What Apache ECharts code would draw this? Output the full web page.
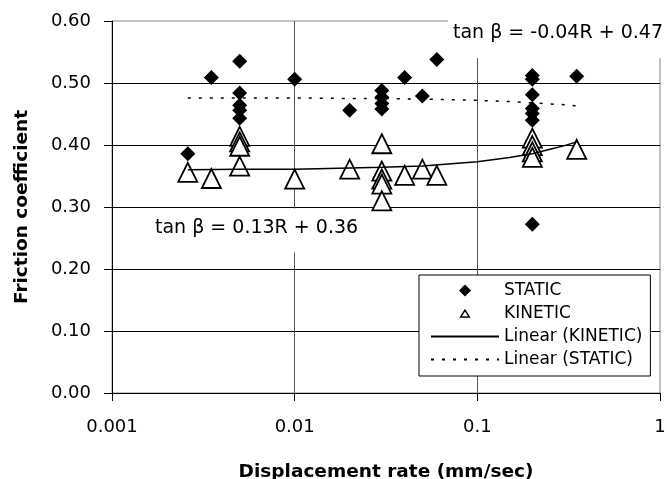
<!DOCTYPE html>
<html>
<head>
<meta charset="utf-8">
<script src="https://cdn.jsdelivr.net/npm/echarts@6/dist/echarts.min.js"></script>
<style>
  html, body { margin: 0; padding: 0; background: #fff; }
  #friction_chart { width: 667px; height: 479px; }
</style>
</head>
<body>
<div id="friction_chart"></div>
<script>
// values
var staticRate = [0.0026, 0.0035, 0.005, 0.005, 0.005, 0.005, 0.005, 0.01, 0.02, 0.03, 0.03, 0.03, 0.03, 0.04, 0.05, 0.06, 0.2, 0.2, 0.2, 0.2, 0.2, 0.2, 0.2, 0.35];
var staticCoef = [0.386, 0.509, 0.535, 0.484, 0.464, 0.456, 0.443, 0.506, 0.456, 0.488, 0.477, 0.467, 0.458, 0.509, 0.479, 0.538, 0.512, 0.506, 0.481, 0.459, 0.451, 0.440, 0.272, 0.511];

var kineticRate = [0.0026, 0.0035, 0.005, 0.005, 0.005, 0.005, 0.01, 0.02, 0.03, 0.03, 0.03, 0.03, 0.03, 0.04, 0.05, 0.06, 0.2, 0.2, 0.2, 0.2, 0.35];
var kineticCoef = [0.356, 0.346, 0.414, 0.405, 0.398, 0.366, 0.345, 0.361, 0.402, 0.358, 0.345, 0.337, 0.310, 0.351, 0.361, 0.351, 0.411, 0.399, 0.389, 0.380, 0.393];

// trend lines as they appear on the figure (linear in R, so curved on the log axis)
var trendRate    = [0.0026, 0.005, 0.01, 0.02, 0.03, 0.05, 0.1, 0.15, 0.2, 0.25, 0.3, 0.35];
var kineticTrend = [0.360, 0.361, 0.361, 0.363, 0.364, 0.366, 0.373, 0.380, 0.386, 0.393, 0.399, 0.405];
var staticTrend  = [0.476, 0.476, 0.476, 0.475, 0.475, 0.474, 0.472, 0.470, 0.468, 0.466, 0.465, 0.463];

var kineticEq = 'tan \u03b2 = 0.13R + 0.36';
var staticEq = 'tan \u03b2 = -0.04R + 0.47';

function pairs(xs, ys) {
    var out = [];
    for (var i = 0; i < xs.length; i++) out.push([xs[i], ys[i]]);
    return out;
}

var font = 'DejaVu Sans';
// line items in the legend show only the line, not a marker
var noMarker = {color: 'transparent', borderColor: 'transparent', borderWidth: 0};

var dom = document.getElementById("friction_chart");
var myChart = echarts.init(dom, null, {renderer: 'canvas'});
var option = {
    animation: false,
    backgroundColor: '#fff',
    grid: {
        left: 112, right: 7, top: 21, bottom: 86,
        outerBoundsMode: 'none',
        containLabel: false,
        show: true, borderColor: '#888', borderWidth: 1, backgroundColor: '#fff'
    },
    legend: {
        orient: 'vertical',
        left: 419, top: 275,
        padding: [7, 8, 8, 11],
        itemWidth: 68, itemHeight: 12, itemGap: 6,
        symbolKeepAspect: true,
        borderColor: '#000', borderWidth: 1, backgroundColor: '#fff',
        textStyle: {fontFamily: font, fontSize: 17, color: '#000'},
        data: [
            {name: 'STATIC', icon: 'path://M6,0L12,6L6,12L0,6Z'},
            {name: 'KINETIC', icon: 'path://M0,0M16,14M3,11L8,3L13,11Z', itemStyle: {borderWidth: 1.5}},
            {name: 'Linear (KINETIC)', itemStyle: noMarker},
            {name: 'Linear (STATIC)', itemStyle: noMarker}
        ]
    },
    xAxis: {
        type: 'log',
        logBase: 10,
        min: 0.001,
        max: 1,
        name: 'Displacement rate (mm/sec)',
        nameLocation: 'middle',
        nameGap: 70,
        nameTextStyle: {fontFamily: font, fontSize: 18.5, fontWeight: 'bold', color: '#000'},
        axisLine: {lineStyle: {color: '#000', width: 1}},
        axisTick: {show: true, inside: false, length: 8, lineStyle: {color: '#000'}},
        minorTick: {show: false},
        axisLabel: {
            margin: 25, color: '#000', fontFamily: font, fontSize: 18,
            formatter: function (v) { return String(+v.toPrecision(3)); }
        },
        splitLine: {show: true, showMaxLine: false, lineStyle: {color: '#555', width: 1}}
    },
    yAxis: {
        type: 'value',
        min: 0,
        max: 0.6,
        interval: 0.1,
        name: 'Friction coefficient',
        nameLocation: 'middle',
        nameGap: 80,
        nameTextStyle: {fontFamily: font, fontSize: 18.5, fontWeight: 'bold', color: '#000'},
        axisLine: {show: true, lineStyle: {color: '#000', width: 1}},
        axisTick: {show: true, inside: false, length: 8, lineStyle: {color: '#000'}},
        axisLabel: {
            margin: 21, color: '#000', fontFamily: font, fontSize: 18,
            formatter: function (v) { return v.toFixed(2); }
        },
        splitLine: {show: true, showMaxLine: false, lineStyle: {color: '#000', width: 1}}
    },
    graphic: [
        {type: 'rect', z: 50, shape: {x: 448, y: 12, width: 219, height: 46}, style: {fill: '#fff'}},
        {type: 'text', z: 51, x: 453, y: 33,
         style: {text: staticEq, fill: '#000', font: '19px "DejaVu Sans"', textVerticalAlign: 'middle'}},
        {type: 'rect', z: 50, shape: {x: 150, y: 208.5, width: 212, height: 44}, style: {fill: '#fff'}},
        {type: 'text', z: 51, x: 155, y: 228,
         style: {text: kineticEq, fill: '#000', font: '19px "DejaVu Sans"', textVerticalAlign: 'middle'}}
    ],
    series: [
        {
            name: 'Linear (KINETIC)',
            type: 'line',
            data: pairs(trendRate, kineticTrend),
            symbol: 'none',
            lineStyle: {color: '#000', width: 1.5},
            itemStyle: {color: '#000'}
        },
        {
            name: 'Linear (STATIC)',
            type: 'line',
            data: pairs(trendRate, staticTrend),
            symbol: 'none',
            lineStyle: {color: '#000', width: 1.5, type: [3, 8]},
            itemStyle: {color: '#000'}
        },
        {
            name: 'STATIC',
            type: 'scatter',
            data: pairs(staticRate, staticCoef),
            symbol: 'diamond',
            symbolSize: 15,
            itemStyle: {color: '#000', opacity: 1}
        },
        {
            name: 'KINETIC',
            type: 'scatter',
            data: pairs(kineticRate, kineticCoef),
            symbol: 'triangle',
            symbolSize: [19, 19],
            itemStyle: {color: '#fff', borderColor: '#000', borderWidth: 1.8, opacity: 1}
        }
    ]
};
if (option && typeof option === "object") {
    myChart.setOption(option, true);
}
window.onresize = myChart.resize;
</script>
</body>
</html>
